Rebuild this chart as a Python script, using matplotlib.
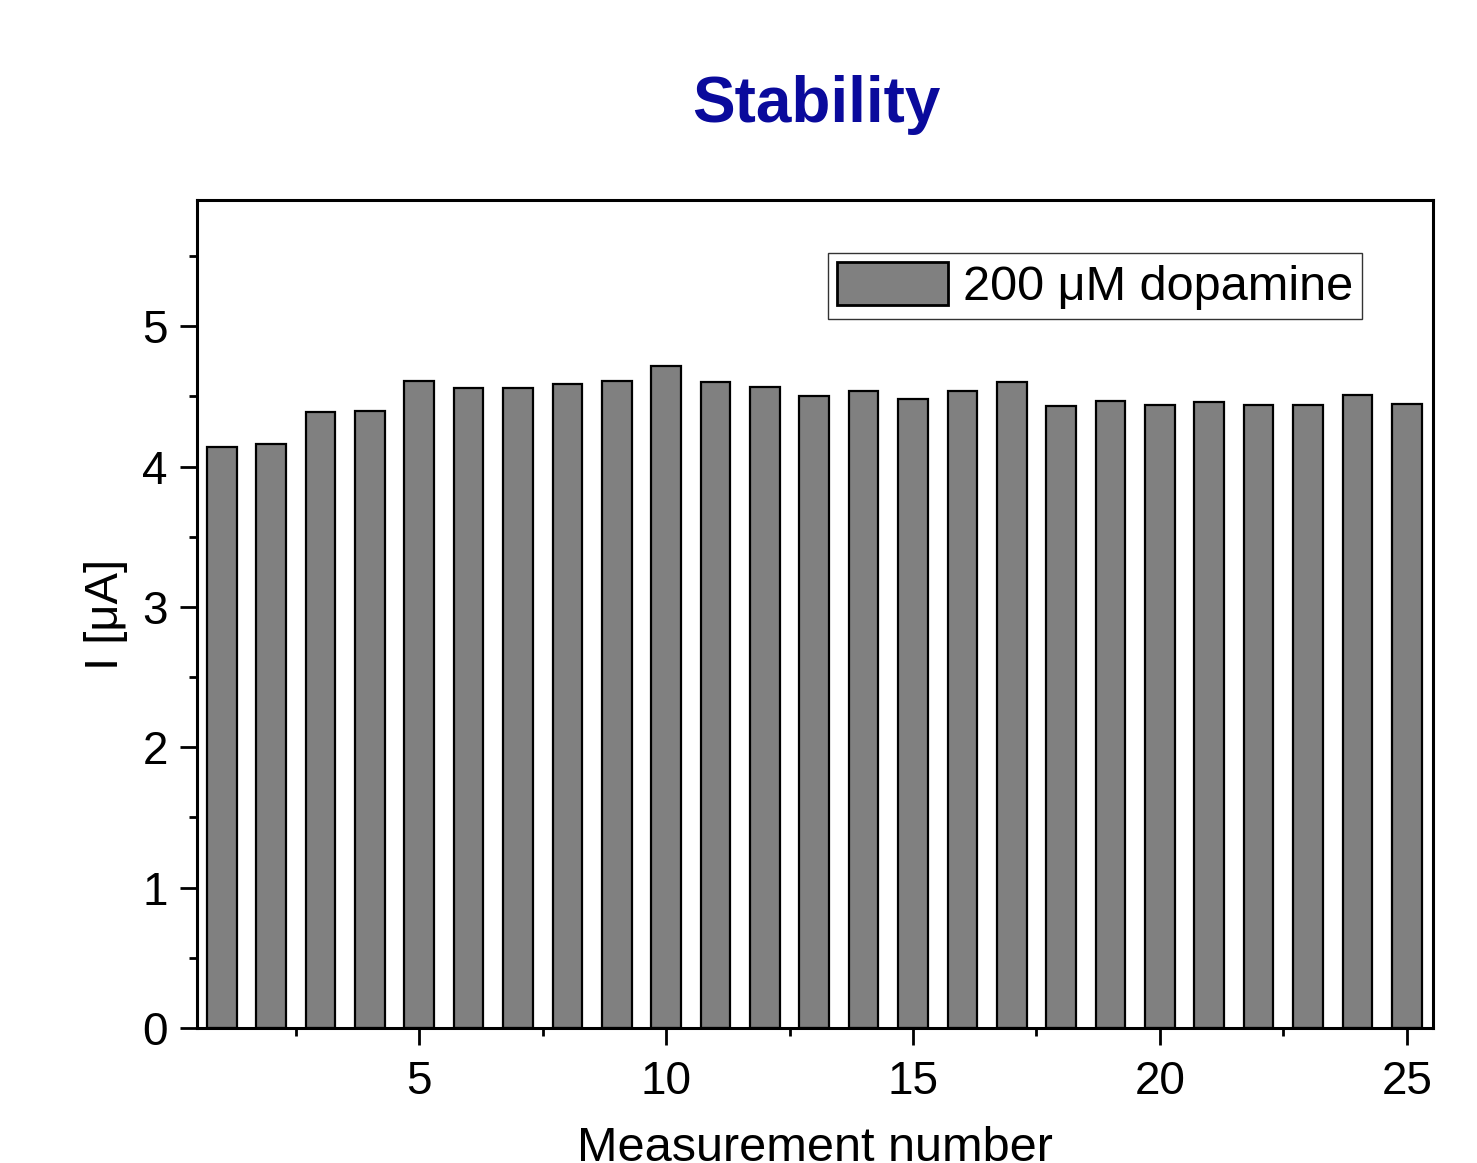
import numpy as np
import matplotlib
matplotlib.use('Agg')
import matplotlib.pyplot as plt
from matplotlib.ticker import MultipleLocator

plt.rcParams['font.family'] = ['Liberation Sans', 'DejaVu Sans']

# Data
measurement = np.arange(1, 26)
current_uA = [4.14, 4.16, 4.39, 4.40, 4.61, 4.56, 4.56, 4.59, 4.61, 4.72,
              4.60, 4.57, 4.50, 4.54, 4.48, 4.54, 4.60, 4.43, 4.47, 4.44,
              4.46, 4.44, 4.44, 4.51, 4.45]
series_label = '200 μM dopamine'

fig = plt.figure(figsize=(14.77, 11.63), dpi=100)
ax = fig.add_axes([0.1334, 0.1161, 0.8368, 0.7119])

ax.bar(measurement, current_uA, width=0.6, color='#808080',
       edgecolor='black', linewidth=1.6, label=series_label)

ax.set_xlim(0.5, 25.53)
ax.set_ylim(0, 5.9)

ax.xaxis.set_major_locator(MultipleLocator(5))
ax.xaxis.set_minor_locator(MultipleLocator(2.5))
ax.yaxis.set_major_locator(MultipleLocator(1))
ax.yaxis.set_minor_locator(MultipleLocator(0.5))

ax.tick_params(which='both', direction='out', width=2, labelsize=33,
               top=False, right=False)
ax.tick_params(which='major', length=12)
ax.tick_params(which='minor', length=6)
ax.tick_params(axis='x', which='major', pad=11)
ax.tick_params(axis='y', which='major', pad=9)

for sp in ax.spines.values():
    sp.set_linewidth(2.2)

ax.set_xlabel('Measurement number', fontsize=35, labelpad=16)
ax.set_ylabel('I [μA]', fontsize=34, labelpad=10)

leg = ax.legend(loc='upper right', bbox_to_anchor=(0.9425, 0.936),
                borderaxespad=0, fontsize=35,
                fancybox=False, framealpha=1, edgecolor='#333333',
                handlelength=2.3, handleheight=1.0, borderpad=0.18,
                handletextpad=0.3)
leg.get_frame().set_linewidth(1.0)
for h in leg.legend_handles:
    h.set_linewidth(2)

fig.text(0.5525, 0.91, 'Stability', ha='center', va='center',
         fontsize=46, fontweight='bold', color='#0A0A9C')

plt.savefig('out.png', dpi=100)
plt.close()
